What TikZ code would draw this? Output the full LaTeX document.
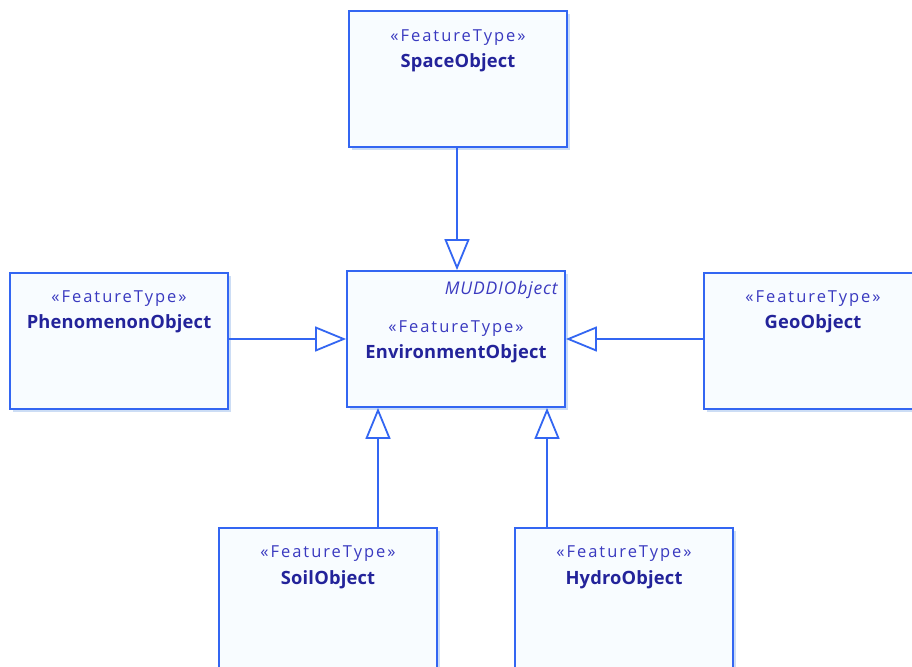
\documentclass[tikz,border=0pt]{standalone}
\usepackage{fontspec}
\setmainfont{Open Sans}
\newfontfamily\stfont[LetterSpace=12]{Open Sans}
\newfontfamily\nmfont[LetterSpace=1]{Open Sans}
\newfontfamily\itfont[LetterSpace=5]{Open Sans}
\usetikzlibrary{arrows.meta}
\definecolor{umlline}{HTML}{3366F2}
\definecolor{umlfill}{HTML}{F8FCFF}
\definecolor{umlshadow}{HTML}{CCDDF5}
\definecolor{nametext}{HTML}{23239A}
\definecolor{sttext}{HTML}{3A3AC0}
\tikzset{
  classbox/.style={draw=umlline, line width=1.8pt, fill=umlfill, minimum width=218pt, minimum height=136pt, inner sep=0pt,
    preaction={fill=umlshadow, transform canvas={shift={(3pt,-3pt)}}}},
  stereo/.style={text=sttext, font=\stfont\fontsize{16.5}{19}\selectfont, inner sep=0pt},
  cname/.style={text=nametext, font=\nmfont\bfseries\fontsize{18.3}{21}\selectfont, inner sep=0pt},
  gen/.style={draw=umlline, line width=1.8pt, -{Triangle[open, length=31pt, width=25pt, fill=white]}}
}
\begin{document}
\begin{tikzpicture}[x=1pt,y=-1pt]
\useasboundingbox (0,0) rectangle (912,666);
\clip (0,0) rectangle (912,666);
\fill[white] (0,0) rectangle (912,666);
% boxes
\node[classbox] (space) at (458,79) {};
\node[classbox] (env) at (456,339) {};
\node[classbox] (phen) at (119,341) {};
\node[classbox] (geo) at (813,341) {};
\node[classbox, minimum height=140pt] (soil) at (328,598) {};
\node[classbox, minimum height=140pt] (hydro) at (624,598) {};
% texts
\node[stereo] (spaceS) at ([yshift=-27.5pt]space.north) {«FeatureType»};
\node[cname] (spaceN) at ([yshift=-52.5pt]space.north) {SpaceObject};
\node[text=sttext, font=\itfont\itshape\fontsize{17.5}{20}\selectfont, inner sep=0pt, anchor=east] (envM) at ([xshift=-8pt,yshift=-20pt]env.north east) {MUDDIObject};
\node[stereo] (envS) at ([yshift=-58pt]env.north) {«FeatureType»};
\node[cname] (envN) at ([yshift=-83.5pt]env.north) {EnvironmentObject};
\node[stereo] (phenS) at ([yshift=-26pt]phen.north) {«FeatureType»};
\node[cname] (phenN) at ([yshift=-51.5pt]phen.north) {PhenomenonObject};
\node[stereo] (geoS) at ([yshift=-26pt]geo.north) {«FeatureType»};
\node[cname] (geoN) at ([yshift=-51.5pt]geo.north) {GeoObject};
\node[stereo] (soilS) at ([yshift=-26pt]soil.north) {«FeatureType»};
\node[cname] (soilN) at ([yshift=-52.5pt]soil.north) {SoilObject};
\node[stereo] (hydroS) at ([yshift=-26pt]hydro.north) {«FeatureType»};
\node[cname] (hydroN) at ([yshift=-52.5pt]hydro.north) {HydroObject};
% generalizations
\draw[gen] ([xshift=-1pt]space.south) -- ([xshift=-1pt]space.south |- env.north);
\draw[gen] (phen.east |- env.west) -- (env.west);
\draw[gen] (geo.west |- env.east) -- (env.east);
\draw[gen] ([xshift=50pt]soil.north) -- ([xshift=50pt]soil.north |- env.south);
\draw[gen] ([xshift=-77pt]hydro.north) -- ([xshift=-77pt]hydro.north |- env.south);
\end{tikzpicture}
\end{document}
